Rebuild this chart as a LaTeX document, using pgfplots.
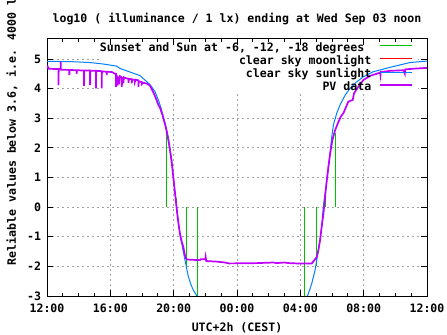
\documentclass[border=0pt]{standalone}
\usepackage{pgfplots}
\pgfplotsset{compat=1.18}
\usepackage{fontspec}
\setmainfont{DejaVu Sans Mono}
\definecolor{gpgreen}{HTML}{00C000}
\definecolor{gpred}{HTML}{FF0000}
\definecolor{gpblue}{HTML}{0080FF}
\definecolor{gpmag}{HTML}{C000FF}
\definecolor{gridgray}{RGB}{160,160,160}
\pgfdeclarelayer{keybox}
\pgfplotsset{
  layers/mylayers/.define layer set={axis background,axis grid,keybox,axis ticks,axis lines,axis tick labels,main,axis descriptions,axis foreground}{
    grid style={/pgfplots/on layer=axis grid},
    tick style={/pgfplots/on layer=axis ticks},
    axis line style={/pgfplots/on layer=axis lines},
    label style={/pgfplots/on layer=axis descriptions},
    legend style={/pgfplots/on layer=axis descriptions},
    title style={/pgfplots/on layer=axis descriptions},
    colorbar style={/pgfplots/on layer=axis descriptions},
    ticklabel style={/pgfplots/on layer=axis tick labels},
    axis background@ style={/pgfplots/on layer=axis background},
    3d box foreground style={/pgfplots/on layer=axis foreground},
  },
}
\begin{document}
\begin{tikzpicture}[font=\fontsize{11.6}{13.9}\selectfont\bfseries]
\begin{axis}[
  name=ax,
  set layers=mylayers,
  scale only axis, width=380bp, height=257bp,
  xmin=0, xmax=24, ymin=-3, ymax=5.675,
  xtick={0,4,...,24},
  xticklabels={12:00,16:00,20:00,00:00,04:00,08:00,12:00},
  minor x tick num=3,
  ytick={-3,-2,...,5},
  /pgf/number format/assume math mode=true,
  tick align=inside,
  major tick length=6bp, minor tick length=3bp,
  tick style={black, line width=0.8bp},
  axis line style={black, line width=1bp},
  grid=major,
  major grid style={gridgray, dash pattern=on 2bp off 3bp, line width=0.9bp},
  xticklabel style={anchor=base, yshift=-16bp},
  yticklabel style={xshift=-2.5bp},
  every axis title/.style={at={(0.5,1)}, anchor=base, yshift=16bp},
  title={log10 ( illuminance / 1 lx) ending at Wed Sep 03 noon},
  every axis x label/.style={at={(0.5,0)}, anchor=base, yshift=-35bp},
  xlabel={UTC+2h (CEST)},
  every axis y label/.style={at={(-0.092,0.652)}, rotate=90, anchor=center},
  ylabel={Reliable values below 3.6, i.e. 4000 lx},
  legend style={draw=none, fill=none, at={(0.963,0.987)}, anchor=north east,
    inner sep=0pt, outer sep=0pt, row sep=0pt, column sep=0pt,
    nodes={inner sep=0pt, text height=9bp, text depth=4.1bp}},
  legend plot pos=right, legend cell align=right,
  legend image code/.code={\path (0bp,0bp); \draw[#1] (8bp,3bp) -- (40bp,3bp);},
  unbounded coords=jump,
]
\begin{pgfonlayer}{keybox}
\fill[white] (axis cs:3.35,3.885) rectangle (axis cs:23.44,5.675);
\end{pgfonlayer}

% Sunset and Sun at -6, -12, -18 degrees
\addplot[gpgreen, line width=1.2bp] coordinates {
(7.56,0) (7.56,2.5) (7.56,nan)
(8.19,0) (8.19,0.3) (8.19,nan)
(8.80,0) (8.80,-2.0) (8.80,nan)
(9.52,0) (9.52,-3.0) (9.52,nan)
(16.25,0) (16.25,-3.0) (16.25,nan)
(17.00,0) (17.00,-2.0) (17.00,nan)
(17.56,0) (17.56,0.3) (17.56,nan)
(18.20,0) (18.20,2.5)
};
\addlegendentry{Sunset and Sun at -6, -12, -18 degrees\phantom{s}}

% clear sky moonlight (below the plotted range)
\addlegendimage{gpred, line width=1bp}
\addlegendentry{clear sky moonlight}

% clear sky sunlight
\addplot[gpblue, line width=1bp] coordinates {
(0,4.92) (1.56,4.91) (2.72,4.88) (3.56,4.83) (4.4,4.76) (4.61,4.68) (5.03,4.6)
(5.87,4.44) (6.5,4.14) (6.82,3.9) (7.03,3.62) (7.2,3.35) (7.35,3.05) (7.5,2.75)
(7.66,2.35) (7.78,1.95) (7.88,1.59) (7.96,1.15) (8.04,0.69) (8.12,0.33) (8.19,0.01)
(8.28,-0.40) (8.36,-0.78) (8.45,-1.06) (8.55,-1.34) (8.63,-1.57) (8.72,-1.79)
(8.82,-2.07) (8.93,-2.35) (9.08,-2.60) (9.24,-2.80) (9.35,-2.90) (9.45,-2.98) (9.55,-3.1)
(9.55,nan)
(16.38,-3.1) (16.47,-2.97) (16.6,-2.78) (16.72,-2.58) (16.93,-2.13) (17.14,-1.45) (17.35,-0.67)
(17.45,0.01) (17.62,0.69) (17.77,1.3) (17.88,1.85) (17.98,2.35) (18.09,2.78) (18.3,3.17)
(18.51,3.45) (18.83,3.78) (19.14,4.01) (19.56,4.23) (19.98,4.4) (20.61,4.57)
(21.04,4.63) (21.67,4.72) (22.3,4.8) (22.93,4.88) (23.56,4.91) (24,4.93)
};
\addlegendentry{clear sky sunlight}

% PV data
\addplot[gpmag, line width=1.7bp] coordinates {
(0,4.68) (0.05,4.74) (0.1,4.67) (0.72,4.66) (0.72,4.12) (0.74,4.66) (0.86,4.66)
(0.86,4.91) (0.88,4.64) (1.41,4.63) (1.41,4.46) (1.43,4.63) (1.87,4.62) (1.87,4.5)
(1.89,4.62) (2.34,4.61) (2.34,4.09) (2.36,4.61) (2.72,4.61) (2.72,4.12) (2.74,4.6)
(3.09,4.6) (3.09,4.01) (3.11,4.6) (3.45,4.59) (3.45,4.01) (3.47,4.58) (3.77,4.57)
(3.77,4.46) (3.79,4.57) (4.1,4.56) (4.3,4.5) (4.36,4.5) (4.36,4.06) (4.4,4.45)
(4.45,4.1) (4.51,4.4) (4.55,4.15) (4.6,4.42) (4.72,4.38) (4.72,4.06) (4.76,4.35)
(4.82,4.35) (4.82,4.18) (4.86,4.38) (5.0,4.35) (5.14,4.33) (5.14,4.2) (5.18,4.33)
(5.35,4.32) (5.35,4.18) (5.38,4.3) (5.56,4.3) (5.56,4.24) (5.6,4.3) (5.77,4.28)
(5.77,4.06) (5.8,4.25) (5.98,4.22) (5.98,4.15) (6.08,4.2) (6.3,4.17) (6.5,4.1)
(6.6,4.0) (6.71,3.88) (6.82,3.75) (6.93,3.6) (7.03,3.45) (7.14,3.35) (7.3,3.1)
(7.4,2.9) (7.5,2.7) (7.6,2.45) (7.7,2.15) (7.8,1.8) (7.9,1.4) (7.98,1.0) (8.06,0.6)
(8.14,0.2) (8.22,-0.2) (8.3,-0.55) (8.4,-0.9) (8.5,-1.15) (8.61,-1.34) (8.7,-1.6)
(8.78,-1.73) (8.85,-1.77) (9.66,-1.79) (9.7,-1.76) (10.0,-1.76) (10.02,-1.68)
(10.06,-1.82) (10.72,-1.84) (11.24,-1.87) (11.5,-1.9) (13.25,-1.89) (14.3,-1.87)
(14.5,-1.89) (14.72,-1.88) (15.0,-1.87) (15.3,-1.89) (15.77,-1.9) (16.72,-1.9)
(16.78,-1.86) (16.89,-1.79) (17.04,-1.68) (17.14,-1.45) (17.25,-1.11) (17.35,-0.65)
(17.46,-0.22) (17.56,0.34) (17.67,0.9) (17.77,1.35) (17.88,1.8) (18.02,2.25)
(18.19,2.59) (18.4,2.87) (18.55,3.05) (18.72,3.17) (19.03,3.56) (19.31,3.62)
(19.39,3.84) (19.67,4.07) (19.98,4.29) (20.4,4.43) (21.04,4.54) (21.06,4.46)
(21.08,4.56) (21.67,4.6) (22.5,4.62) (22.6,4.5) (22.62,4.65) (23.35,4.68) (24,4.7)
};
\addlegendentry{PV data}
\end{axis}
\pgfresetboundingbox
\path[use as bounding box] (ax.south west) ++(-47bp,-39bp) rectangle ++(447bp,335bp);
\end{tikzpicture}
\end{document}
